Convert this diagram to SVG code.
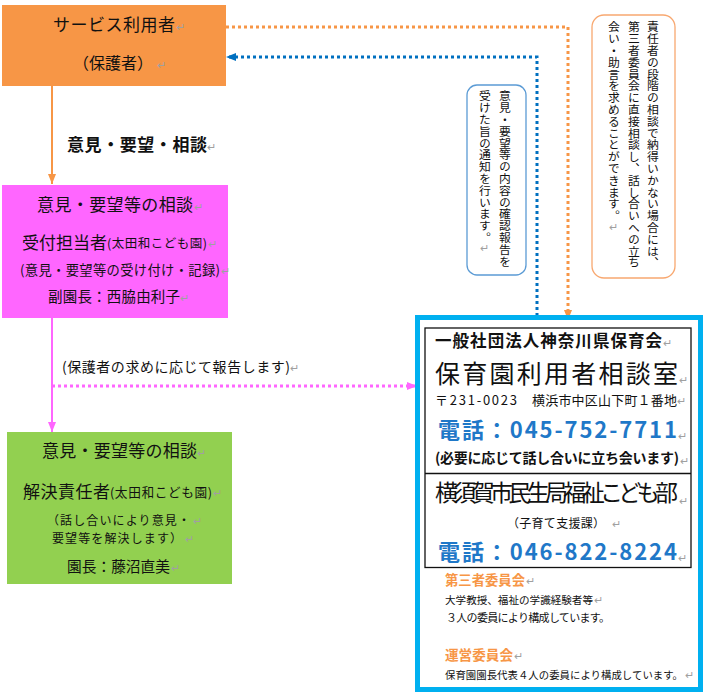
<svg xmlns="http://www.w3.org/2000/svg" width="704" height="692" viewBox="0 0 704 692">
<style>
text{font-family:"Noto Sans CJK JP","Noto Sans CJK SC",sans-serif;fill:#111;}
.rt{fill:#a0a0a0;font-size:11px;}
.b{font-weight:bold;}
.tel{fill:#1f78c8;font-weight:bold;font-size:22px;}
.og{fill:#f79646;font-weight:bold;}
.vt{writing-mode:vertical-rl;font-size:11.8px;}
.dot{fill:none;stroke-width:3;stroke-dasharray:3 3;}
</style>
<defs>
<marker id="aO" markerUnits="userSpaceOnUse" markerWidth="10" markerHeight="10" viewBox="0 0 10 10" refX="10" refY="5" orient="auto"><path d="M0,1 L10,5 L0,9 z" fill="#f79646"/></marker>
<marker id="aP" markerUnits="userSpaceOnUse" markerWidth="10" markerHeight="10" viewBox="0 0 10 10" refX="10" refY="5" orient="auto"><path d="M0,1 L10,5 L0,9 z" fill="#ff66ff"/></marker>
<marker id="aB" markerUnits="userSpaceOnUse" markerWidth="10" markerHeight="10" viewBox="0 0 10 10" refX="10" refY="5" orient="auto"><path d="M0,1 L10,5 L0,9 z" fill="#0070c0"/></marker>
</defs>

<g id="connectors">
<path d="M52,86 V184" stroke="#f79646" stroke-width="2" fill="none" marker-end="url(#aO)"/>
<path d="M52,318 V432" stroke="#ff66ff" stroke-width="2" fill="none" marker-end="url(#aP)"/>
<path class="dot" d="M52,386 H417" stroke="#ff66ff" marker-end="url(#aP)"/>
<path class="dot" d="M226,27 H568 V320" stroke="#f79646" marker-end="url(#aO)"/>
<path class="dot" d="M537,316 V57 H226" stroke="#0070c0" marker-end="url(#aB)"/>
<text x="62" y="372" font-size="14" textLength="228">(保護者の求めに応じて報告します)</text>
<text class="rt" x="290" y="372">↵</text>
<text class="b" x="67" y="151" font-size="17" textLength="140">意見・要望・相談</text>
<text class="rt" x="207" y="151">↵</text>
</g>

<g id="user">
<rect x="2" y="5" width="224" height="81" fill="#f79646"/>
<text x="53" y="31" font-size="17" textLength="122">サービス利用者</text>
<text class="rt" x="176" y="31">↵</text>
<text x="73" y="69" font-size="16" textLength="80">（保護者）</text>
<text class="rt" x="157" y="69">↵</text>
</g>

<g id="reception">
<rect x="2" y="185" width="226" height="133" fill="#ff66ff"/>
<text x="37" y="211" font-size="17" textLength="156">意見・要望等の相談</text>
<text class="rt" x="194" y="211">↵</text>
<text x="22" y="249" font-size="17" textLength="85">受付担当者</text>
<text x="107" y="248" font-size="12.5" textLength="100">(太田和こども園)</text>
<text class="rt" x="208" y="248">↵</text>
<text x="20" y="275" font-size="13.3" textLength="200">(意見・要望等の受け付け・記録)</text>
<text class="rt" x="221" y="275">↵</text>
<text x="48" y="302" font-size="14.5" textLength="132">副園長：西脇由利子</text>
<text class="rt" x="180" y="302">↵</text>
</g>

<g id="resolver">
<rect x="7" y="432" width="225" height="152" fill="#92d050"/>
<text x="42" y="457" font-size="17" textLength="155">意見・要望等の相談</text>
<text class="rt" x="197" y="457">↵</text>
<text x="23" y="498" font-size="17" textLength="87">解決責任者</text>
<text x="110" y="497" font-size="12.7" textLength="102">(太田和こども園)</text>
<text class="rt" x="213" y="497">↵</text>
<text x="47" y="525" font-size="12" textLength="143">（話し合いにより意見・</text>
<text class="rt" x="193" y="525">↵</text>
<text x="52" y="543" font-size="12" textLength="130">要望等を解決します）</text>
<text class="rt" x="185" y="543">↵</text>
<text x="67" y="572" font-size="14.7" textLength="103">園長：藤沼直美</text>
<text class="rt" x="171" y="572">↵</text>
</g>

<g id="note-blue">
<rect x="467" y="85" width="59" height="190" rx="10" fill="#fff" stroke="#5b9bd5" stroke-width="1.3"/>
<text class="vt" x="505" y="90">意見・要望等の内容の確認報告を</text>
<text class="vt" x="485" y="90">受けた旨の通知を行います。</text>
<text class="rt" x="480" y="252" font-size="10">↵</text>
</g>

<g id="note-orange">
<rect x="592" y="15" width="83" height="263" rx="12" fill="#fff" stroke="#f8a870" stroke-width="1.3"/>
<text class="vt" x="653" y="21">責任者の段階の相談で納得いかない場合には、</text>
<text class="vt" x="634" y="21">第三者委員会に直接相談し、話し合いへの立ち</text>
<text class="vt" x="614" y="21">会い・助言を求めることができます。</text>
<text class="rt" x="609" y="231" font-size="10">↵</text>
</g>

<g id="consult">
<rect x="417.5" y="317.5" width="283" height="372" fill="#fff" stroke="#00b0f0" stroke-width="5"/>
<rect x="425" y="328" width="266" height="239.5" fill="none" stroke="#111" stroke-width="1.3"/>
<line x1="425" y1="473.5" x2="691" y2="473.5" stroke="#111" stroke-width="1.3"/>
<text class="b" x="435" y="347" font-size="16.5" textLength="227">一般社団法人神奈川県保育会</text>
<text class="rt" x="663" y="347" font-size="10">↵</text>
<text x="435" y="383" font-size="25" textLength="243">保育園利用者相談室</text>
<text class="rt" x="679" y="384">↵</text>
<text x="435" y="405" font-size="13" textLength="82">〒231-0023</text>
<text x="532" y="405" font-size="13" textLength="145">横浜市中区山下町１番地</text>
<text class="rt" x="677" y="405">↵</text>
<text class="tel" x="438" y="438" textLength="239">電話：045-752-7711</text>
<text class="rt" x="678" y="440">↵</text>
<text x="435" y="463" font-size="14" font-weight="bold" textLength="244">(必要に応じて話し合いに立ち会います)</text>
<text class="rt" x="680" y="465">↵</text>
<text x="435" y="501" font-size="23" textLength="243">横須賀市民生局福祉こども部</text>
<text class="rt" x="679" y="505">↵</text>
<text x="507" y="528" font-size="12" textLength="98">（子育て支援課）</text>
<text class="rt" x="612" y="528">↵</text>
<text class="tel" x="438" y="560" textLength="239">電話：046-822-8224</text>
<text class="rt" x="678" y="562">↵</text>
<text class="og" x="445" y="585" font-size="13.3" textLength="80">第三者委員会</text>
<text class="rt" x="526" y="585">↵</text>
<text x="445" y="604" font-size="10.6" textLength="148">大学教授、福祉の学識経験者等</text>
<text class="rt" x="594" y="604" font-size="9">↵</text>
<text x="446" y="622" font-size="11" textLength="164">３人の委員により構成しています。</text>
<text class="og" x="445" y="660" font-size="13.6" textLength="68">運営委員会</text>
<text class="rt" x="514" y="660">↵</text>
<text x="445" y="679" font-size="10.4" textLength="238">保育園園長代表４人の委員により構成しています。</text>
<text class="rt" x="685" y="679" font-size="9">↵</text>
</g>
</svg>
